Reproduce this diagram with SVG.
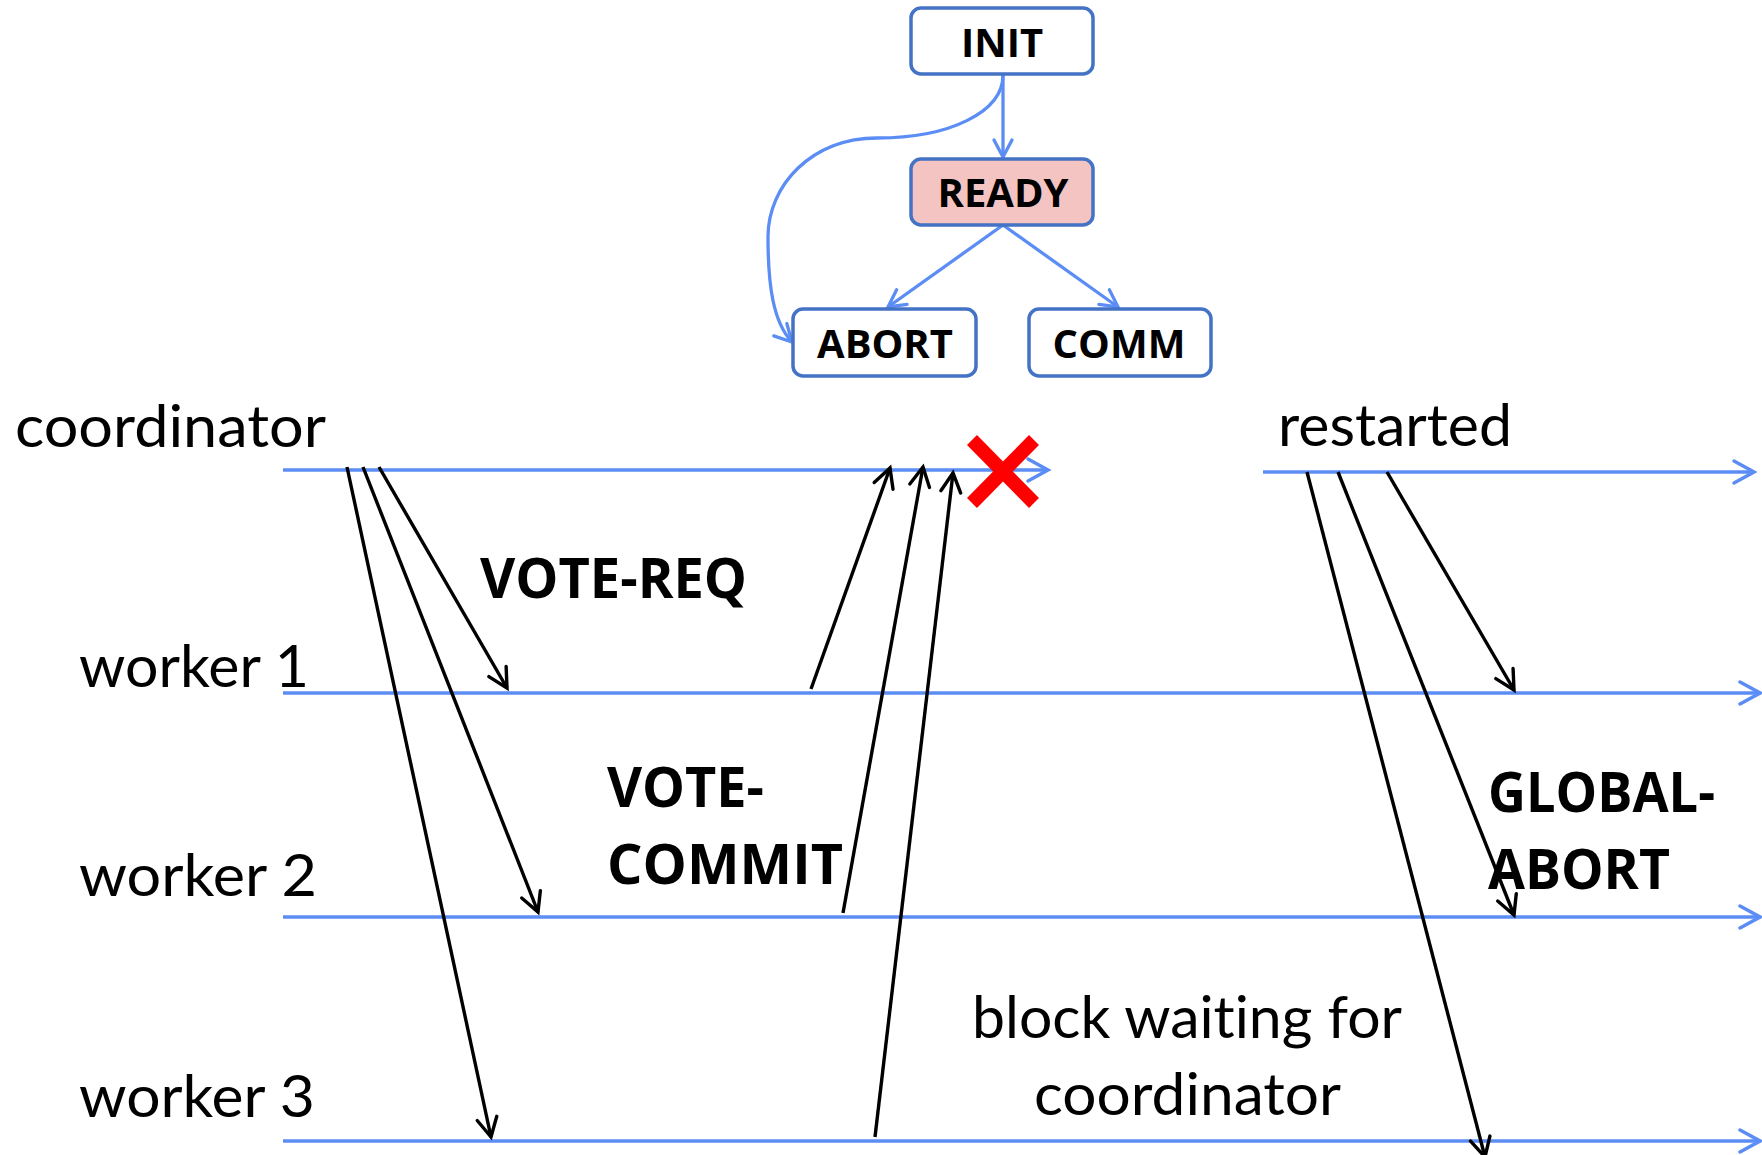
<svg xmlns="http://www.w3.org/2000/svg" width="1762" height="1155" viewBox="0 0 1762 1155">
<style>
.box{fill:#fff;stroke:#4472C4;stroke-width:3.5}
.ready{fill:#F4C4C3}
.st{font-family:"Open Sans","Liberation Sans",sans-serif;font-weight:700;font-size:40px;fill:#000;text-anchor:middle}
.lbl{font-family:Lato,"Liberation Sans",sans-serif;font-size:58px;fill:#000;font-variant-ligatures:none}
.msg{font-family:"Open Sans","Liberation Sans",sans-serif;font-weight:700;font-size:56px;fill:#000}
.life{stroke:#5B8DF5;stroke-width:3.5;fill:none}
.sarrow{stroke:#5B8DF5;stroke-width:3.3;fill:none}
.msgline{stroke:#000;stroke-width:3.4;fill:none}
</style>
<defs>
<marker id="blk" markerUnits="userSpaceOnUse" markerWidth="30" markerHeight="30" refX="0" refY="0" orient="auto" overflow="visible">
<path d="M-19,-10 L0,0 L-19,10" fill="none" stroke="#000" stroke-width="3.4" stroke-linecap="round" stroke-linejoin="miter"/>
</marker>
<marker id="blu" markerUnits="userSpaceOnUse" markerWidth="30" markerHeight="30" refX="0" refY="0" orient="auto" overflow="visible">
<path d="M-20,-11 L0,0 L-20,11" fill="none" stroke="#5B8DF5" stroke-width="3.5" stroke-linecap="round"/>
</marker>
<marker id="blus" markerUnits="userSpaceOnUse" markerWidth="30" markerHeight="30" refX="0" refY="0" orient="auto" overflow="visible">
<path d="M-17,-9 L0,0 L-17,9" fill="none" stroke="#5B8DF5" stroke-width="3.3" stroke-linecap="round"/>
</marker>
</defs>
<rect width="1762" height="1155" fill="#fff"/>

<g id="connectors">
<g id="state-edges">
<path class="sarrow" d="M1003,75 L1003,157" marker-end="url(#blus)"/>
<path class="sarrow" d="M1003,225 L888,307" marker-end="url(#blus)"/>
<path class="sarrow" d="M1003,225 L1118,307" marker-end="url(#blus)"/>
<path class="sarrow" d="M1003,75 C1003,112 950,138 877,138 C812,138 768,185 768,237 C768,285 773,322 792,342" marker-end="url(#blus)"/>
</g>
<g id="lifelines">
<path class="life" d="M283,470 L1048,470" marker-end="url(#blu)"/>
<path class="life" d="M1263,472 L1754,472" marker-end="url(#blu)"/>
<path class="life" d="M283,693 L1760,693" marker-end="url(#blu)"/>
<path class="life" d="M283,917 L1760,917" marker-end="url(#blu)"/>
<path class="life" d="M283,1141 L1760,1141" marker-end="url(#blu)"/>
</g>
<g id="vote-req">
<path class="msgline" d="M379,467 L507,688" marker-end="url(#blk)"/>
<path class="msgline" d="M363,467 L538,912" marker-end="url(#blk)"/>
<path class="msgline" d="M347,467 L491,1137" marker-end="url(#blk)"/>
</g>
<g id="vote-commit">
<path class="msgline" d="M811,689 L890,468" marker-end="url(#blk)"/>
<path class="msgline" d="M843,913 L923,467" marker-end="url(#blk)"/>
<path class="msgline" d="M875,1137 L953,473" marker-end="url(#blk)"/>
</g>
<g id="global-abort">
<path class="msgline" d="M1387,472 L1514,690" marker-end="url(#blk)"/>
<path class="msgline" d="M1338,472 L1514,915" marker-end="url(#blk)"/>
<path class="msgline" d="M1307,472 L1485,1157" marker-end="url(#blk)"/>
</g>
</g>

<g id="node-init">
<rect class="box" x="911" y="8" width="182" height="66" rx="10"/>
<text class="st" x="1002" y="57">INIT</text>
</g>
<g id="node-ready">
<rect class="box ready" x="911" y="159" width="182" height="66" rx="10"/>
<text class="st" x="1003" y="207">READY</text>
</g>
<g id="node-abort">
<rect class="box" x="793" y="309" width="183" height="67" rx="10"/>
<text class="st" x="885" y="358">ABORT</text>
</g>
<g id="node-comm">
<rect class="box" x="1029" y="309" width="182" height="67" rx="10"/>
<text class="st" x="1119" y="358">COMM</text>
</g>

<g id="crash">
<path d="M972,440 L1034,503 M1034,440 L972,503" stroke="#FF0000" stroke-width="14" fill="none"/>
</g>

<g id="labels">
<text class="lbl" x="15" y="447" textLength="311" lengthAdjust="spacingAndGlyphs">coordinator</text>
<text class="lbl" x="1278" y="446" textLength="234" lengthAdjust="spacingAndGlyphs">restarted</text>
<text class="lbl" x="79" y="687" textLength="230" lengthAdjust="spacingAndGlyphs">worker 1</text>
<text class="lbl" x="79" y="896" textLength="238" lengthAdjust="spacingAndGlyphs">worker 2</text>
<text class="lbl" x="79" y="1117" textLength="236" lengthAdjust="spacingAndGlyphs">worker 3</text>
<text class="lbl" x="972" y="1038" textLength="430" lengthAdjust="spacingAndGlyphs">block waiting for</text>
<text class="lbl" x="1034" y="1115" textLength="307" lengthAdjust="spacingAndGlyphs">coordinator</text>
<text class="msg" x="480" y="598" textLength="267" lengthAdjust="spacingAndGlyphs">VOTE-REQ</text>
<text class="msg" x="607" y="807" textLength="157" lengthAdjust="spacingAndGlyphs">VOTE-</text>
<text class="msg" x="607" y="884" textLength="236" lengthAdjust="spacingAndGlyphs">COMMIT</text>
<text class="msg" x="1488" y="812" textLength="227" lengthAdjust="spacingAndGlyphs">GLOBAL-</text>
<text class="msg" x="1488" y="889" textLength="182" lengthAdjust="spacingAndGlyphs">ABORT</text>
</g>
</svg>
